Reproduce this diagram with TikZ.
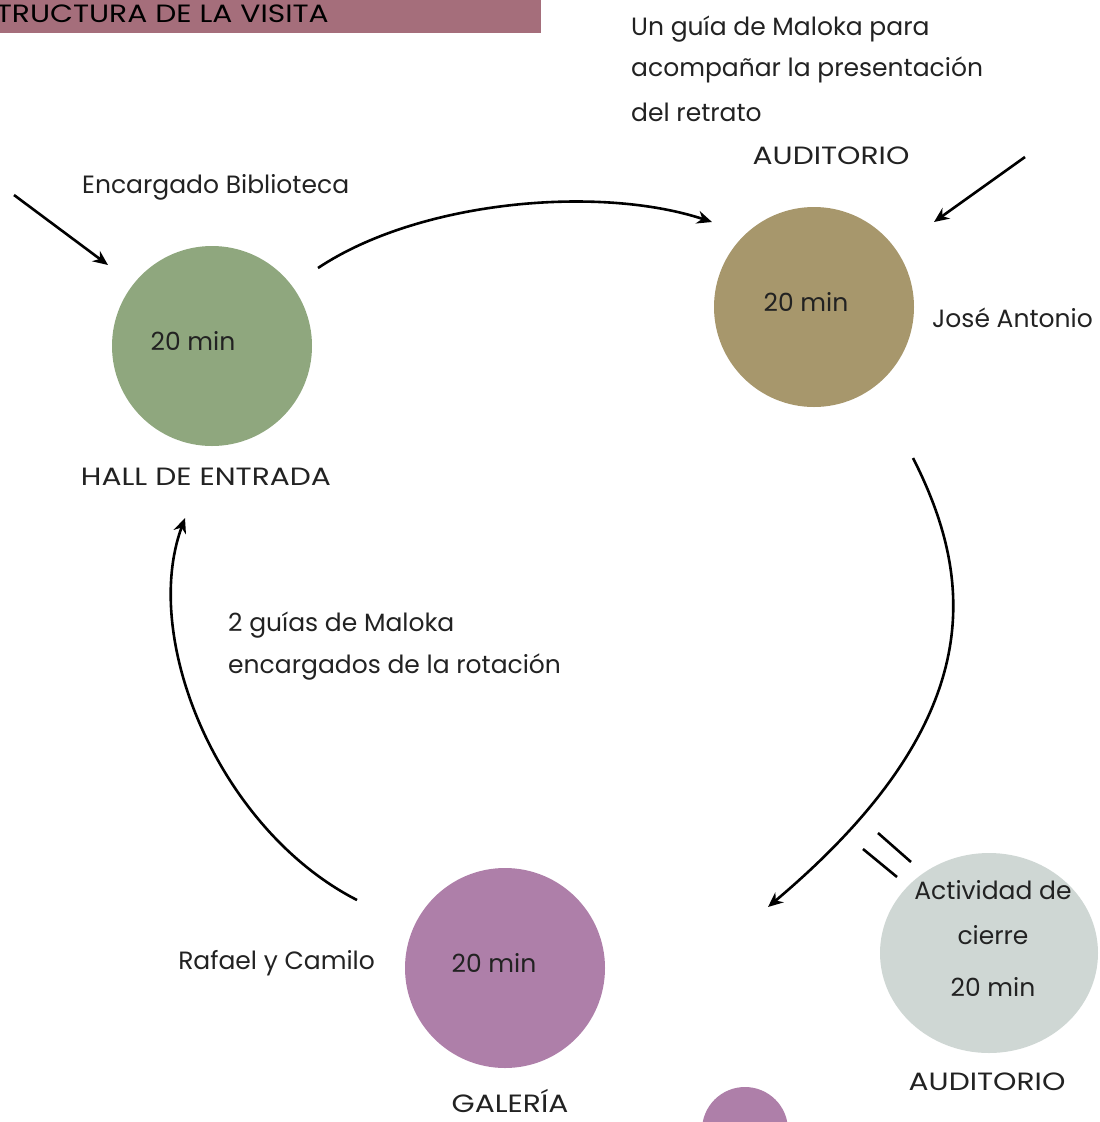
\documentclass[tikz,border=0pt]{standalone}
\usepackage{fontspec}
\setmainfont{Poppins}
\usetikzlibrary{arrows.meta,shapes.geometric}
\definecolor{hdr}{HTML}{A56E7B}
\definecolor{cgreen}{HTML}{8FA77E}
\definecolor{ctan}{HTML}{A7976C}
\definecolor{cpurple}{HTML}{AE7FA9}
\definecolor{cgrey}{HTML}{CFD7D4}
\definecolor{txt}{HTML}{222222}
\begin{document}
\begin{tikzpicture}[x=1pt,y=-1pt,
  lbl/.style={font=\fontsize{25}{41}\selectfont, text=txt, inner sep=0pt},
  caps/.style={lbl, xscale=1.19},
  stop/.style={circle, minimum size=200pt, inner sep=0pt},
  conn/.style={line width=2.6pt, -{Stealth[length=15pt,width=13pt]}},
  tick/.style={line width=2.6pt}]
\useasboundingbox (0,0) rectangle (1100,1122);
\clip (0,0) rectangle (1100,1122);
% header
\fill[hdr] (-10,-10) rectangle (541,33);
\node[caps, anchor=base east, text=black] (title) at (329,22) {ESTRUCTURA DE LA VISITA};
% circles
\node[stop, fill=cgreen] (hall) at (212,346) {};
\node[lbl] (hallt) at (193,341) {20 min};
\node[stop, fill=ctan] (aud) at (814,307) {};
\node[lbl] (audt) at (806,302) {20 min};
\node[stop, fill=cpurple] (gal) at (505,968) {};
\node[lbl] (galt) at (494,963) {20 min};
\node[ellipse, fill=cgrey, minimum width=218pt, minimum height=200pt, inner sep=0pt] (cie) at (989,953) {};
\node[stop, fill=cpurple, minimum size=86pt] (small) at (745,1130) {};
% texts
\node[lbl] (ciet1) at (993,890) {Actividad de};
\node[lbl] (ciet2) at (993,935) {cierre};
\node[lbl] (ciet3) at (993,987) {20 min};
\node[caps] (auditorio2) at (987,1082) {AUDITORIO};
\node[caps] (hallname) at (206,477) {HALL DE ENTRADA};
\node[lbl, anchor=west] (enc) at (82,187) {Encargado Biblioteca};
\node[caps] (audname) at (831,156) {AUDITORIO};
\node[lbl, anchor=west] (ug1) at (631,29) {Un guía de Maloka para};
\node[lbl, anchor=west] (ug2) at (631,70) {acompañar la presentación};
\node[lbl, anchor=west] (ug3) at (631,112) {del retrato};
\node[lbl, anchor=west] (jose) at (932,318) {José Antonio};
\node[lbl, anchor=east] (raf) at (375,963) {Rafael y Camilo};
\node[caps] (galname) at (510,1101) {GALERÍA};
\node[lbl, anchor=west] (g1) at (228,625) {2 guías de Maloka};
\node[lbl, anchor=west] (g2) at (228,667) {encargados de la rotación};
% connectors
\coordinate (a1s) at (14,195);
\coordinate (a1e) at (108,265);
\coordinate (a2s) at (1025,157);
\coordinate (a2e) at (934,222);
\coordinate (t1s) at (318,268);
\coordinate (t1e) at (712,222);
\coordinate (r1s) at (913,458);
\coordinate (r1e) at (768,907);
\coordinate (l1s) at (357,900);
\coordinate (l1e) at (185,518);
\draw[conn] (a1s) -- (a1e);
\draw[conn] (a2s) -- (a2e);
\draw[conn] (t1s) .. controls (420,200) and (600,185) .. (t1e);
\draw[conn] (r1s) .. controls (975,580) and (990,720) .. (r1e);
\draw[conn] (l1s) .. controls (220,830) and (140,640) .. (l1e);
\coordinate (k1a) at (863,849);
\coordinate (k1b) at (897,877);
\coordinate (k2a) at (878,833);
\coordinate (k2b) at (911,862);
\draw[tick] (k1a) -- (k1b);
\draw[tick] (k2a) -- (k2b);
\end{tikzpicture}
\end{document}
